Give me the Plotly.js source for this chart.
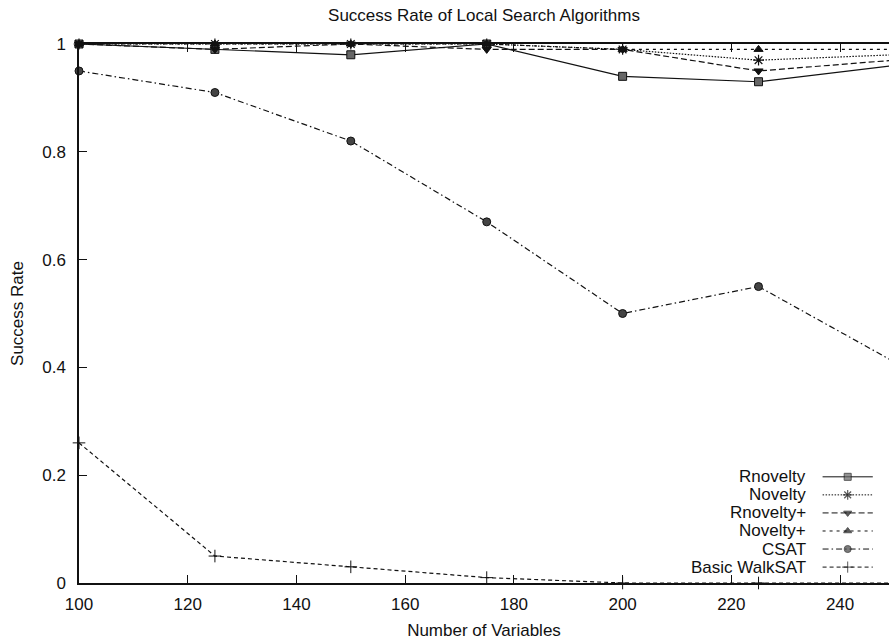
<!DOCTYPE html>
<html>
<head>
<meta charset="utf-8">
<script src="https://cdn.plot.ly/plotly-3.0.1.min.js"></script>
<style>
  html, body { margin: 0; padding: 0; background: #fff; }
  #chart { width: 889px; height: 640px; }
</style>
</head>
<body>
<div id="chart"></div>
<script>
// Number of variables in each benchmark instance set
const numVariables = [100, 125, 150, 175, 200, 225, 250];

// Success rate of each local search algorithm
const rnovelty      = [1.00, 0.99, 0.98, 1.00, 0.94, 0.93, 0.96];
const novelty       = [1.00, 1.00, 1.00, 1.00, 0.99, 0.97, 0.98];
const rnoveltyPlus  = [1.00, 0.99, 1.00, 0.99, 0.99, 0.95, 0.97];
const noveltyPlus   = [1.00, 1.00, 1.00, 1.00, 0.99, 0.99, 0.99];
const csat          = [0.95, 0.91, 0.82, 0.67, 0.50, 0.55, 0.41];
const basicWalkSat  = [0.26, 0.05, 0.03, 0.01, 0.00, 0.00, 0.00];

const seriesNames = ['Rnovelty', 'Novelty', 'Rnovelty+', 'Novelty+', 'CSAT', 'Basic WalkSAT'];
const seriesValues = [rnovelty, novelty, rnoveltyPlus, noveltyPlus, csat, basicWalkSat];

const xTickVals = [100, 120, 140, 160, 180, 200, 220, 240];
const yTickVals = [0, 0.2, 0.4, 0.6, 0.8, 1];
const yTickText = ['0', '0.2', '0.4', '0.6', '0.8', '1'];

const FONT = 'Liberation Sans, Arial, Helvetica, sans-serif';
const FS = 17;
const INK = '#111';

// Line and marker styling per series
const styles = [
  { dash: 'solid',                 symbol: 'square',          size: 8, fill: '#666', lw: 1 },
  { dash: '1.5px,1.5px',           symbol: 'asterisk-open',   size: 9, fill: INK,    lw: 1.2 },
  { dash: '6px,3px',               symbol: 'triangle-down',   size: 8, fill: INK,    lw: 1 },
  { dash: '3px,4px',               symbol: 'triangle-up',     size: 8, fill: INK,    lw: 1 },
  { dash: '6px,3px,1.5px,3px',     symbol: 'circle',          size: 8, fill: '#444', lw: 1 },
  { dash: '4px,3px',               symbol: 'cross-thin-open', size: 9, fill: INK,    lw: 1 }
];

const traces = seriesValues.map((vals, i) => ({
  type: 'scatter',
  mode: 'lines+markers',
  name: seriesNames[i],
  x: numVariables,
  y: vals,
  cliponaxis: false,
  showlegend: false,
  line: { color: INK, width: 1.2, dash: styles[i].dash },
  marker: {
    symbol: styles[i].symbol,
    size: styles[i].size,
    color: styles[i].fill,
    line: { color: INK, width: styles[i].lw }
  }
}));

// Key in the lower right: label text on the left, line sample on the right.
// Positions are fractions of the plotting area.
const keyTextX = 0.90;
const keySampleX0 = 0.918, keySampleX1 = 0.980;
const keyTopY = 0.197, keyStep = 0.0335;

const annotations = [];
seriesNames.forEach((name, i) => {
  const yy = keyTopY - i * keyStep;
  annotations.push({
    xref: 'paper', yref: 'paper', x: keyTextX, y: yy,
    xanchor: 'right', yanchor: 'middle', showarrow: false,
    text: name, font: { family: FONT, size: FS, color: INK }
  });
  const mid = (keySampleX0 + keySampleX1) / 2;
  traces.push({
    type: 'scatter', mode: 'lines+markers',
    xaxis: 'x2', yaxis: 'y2', showlegend: false, hoverinfo: 'skip',
    x: [keySampleX0, mid, keySampleX1], y: [yy, yy, yy],
    line: { color: INK, width: 1, dash: styles[i].dash },
    marker: {
      symbol: styles[i].symbol,
      size: [0, styles[i].size - 1, 0],
      color: styles[i].fill,
      line: { color: INK, width: styles[i].lw }
    }
  });
});

const layout = {
  width: 889,
  height: 640,
  margin: { l: 79, r: 0, t: 44, b: 57 },
  paper_bgcolor: '#fff',
  plot_bgcolor: '#fff',
  font: { family: FONT, size: FS, color: INK },
  showlegend: false,
  title: {
    text: 'Success Rate of Local Search Algorithms',
    font: { family: FONT, size: FS, color: INK },
    x: 0.5, xref: 'paper',
    y: 1 - 15 / 640, yref: 'container', yanchor: 'middle'
  },
  xaxis: {
    range: [100, 249],
    tickvals: xTickVals,
    ticks: 'inside', ticklen: 8, tickwidth: 1, tickcolor: INK,
    showline: true, linecolor: INK, linewidth: 1.6, mirror: 'ticks',
    showgrid: false, zeroline: false,
    ticklabelstandoff: 5,
    tickfont: { family: FONT, size: FS, color: INK },
    title: { text: 'Number of Variables', standoff: 11,
             font: { family: FONT, size: FS, color: INK } }
  },
  yaxis: {
    range: [0, 1],
    tickvals: yTickVals, ticktext: yTickText,
    ticks: 'inside', ticklen: 8, tickwidth: 1, tickcolor: INK,
    showline: true, linecolor: INK, linewidth: 1.6, mirror: false,
    showgrid: false, zeroline: false,
    ticklabelstandoff: 8,
    tickfont: { family: FONT, size: FS, color: INK },
    title: { text: 'Success Rate', standoff: 14,
             font: { family: FONT, size: FS, color: INK } }
  },
  xaxis2: { range: [0, 1], visible: false, overlaying: 'x', anchor: 'y2', fixedrange: true },
  yaxis2: { range: [0, 1], visible: false, overlaying: 'y', anchor: 'x2', fixedrange: true },
  annotations: annotations
};

Plotly.newPlot('chart', traces, layout, { staticPlot: true, displayModeBar: false });
</script>
</body>
</html>
